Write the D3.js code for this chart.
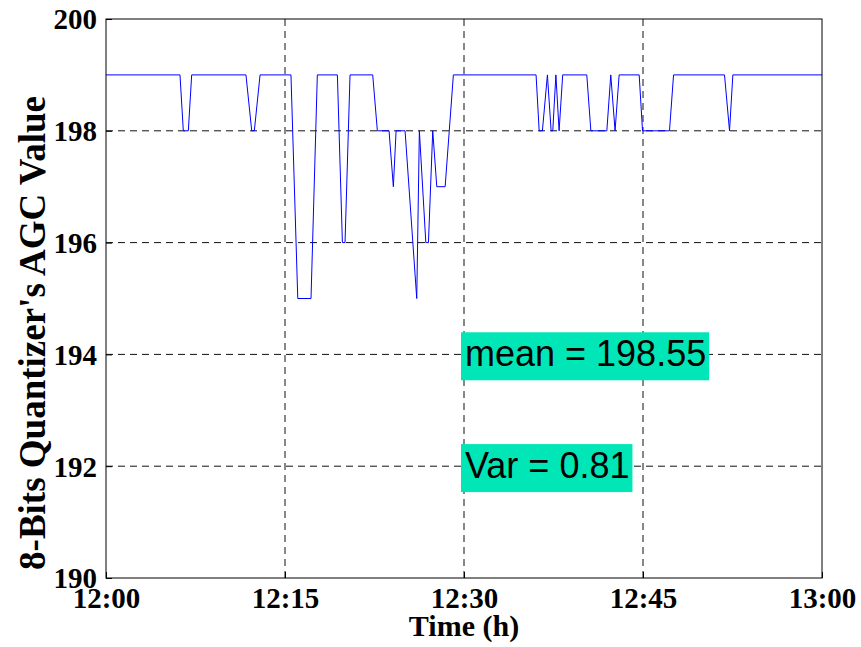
<!DOCTYPE html>
<html lang="en">
	<head>
		<meta charset="utf-8">
		<title>AGC Value</title>
		<script type="text/javascript" src="https://cdn.jsdelivr.net/npm/d3@7"></script>
		<style type="text/css">
			body{ margin: 0; background: white; }
			.tickLabel{
				font-family: "Liberation Serif", "Times New Roman", serif;
				font-weight: bold;
				font-size: 29px;
			}
			.axisTitle{
				font-family: "Liberation Serif", "Times New Roman", serif;
				font-weight: bold;
				font-size: 30px;
			}
			.note{
				font-family: "Liberation Sans", Arial, sans-serif;
				font-size: 36px;
			}
		</style>
	</head>
	<body>
		<div class="chart"></div>
		<script type="text/javascript">

			// minutes after 12:00 and the AGC value read at that moment
			var minutes = [0, 6.20, 6.48, 6.90, 7.18, 11.73, 12.21, 12.43, 12.91, 15.50,
				16.07, 17.18, 17.71, 19.39, 19.81, 20.03, 20.45, 22.35, 22.74, 23.72,
				24.08, 24.31, 25.06, 26.04, 26.26, 26.80, 27.02, 27.38, 27.72, 28.42,
				29.11, 36.04, 36.30, 36.57, 36.99, 37.30, 37.44, 37.70, 37.97, 38.27,
				40.29, 40.63, 41.97, 42.30, 42.66, 43.00, 44.68, 44.96, 47.22, 47.56,
				51.83, 52.25, 52.53, 60];
			var agc = [199, 199, 198, 198, 199, 199, 198, 198, 199, 199,
				195, 195, 199, 199, 196, 196, 199, 199, 198, 198,
				197, 198, 198, 195, 198, 196, 196, 198, 197, 197,
				199, 199, 198, 198, 199, 198, 198, 199, 198, 199,
				199, 198, 198, 199, 198, 199, 199, 198, 198, 199,
				199, 198, 199, 199];

			var xTicks = [0, 15, 30, 45, 60];
			var xTickLabels = ["12:00", "12:15", "12:30", "12:45", "13:00"];
			var yTicks = [190, 192, 194, 196, 198, 200];

			var notes = ["mean = 198.55", "Var = 0.81"];
			var noteY = [194, 192];
			var noteX = 30;

			var w = 861;
			var h = 647;
			var plotL = 106, plotR = 822, plotT = 19, plotB = 578;

			var svg = d3.select("div.chart")
						.append("svg")
						.attr("width", w)
						.attr("height", h);

			var xScale = d3.scaleLinear().domain([0, 60]).range([plotL, plotR]);
			var yScale = d3.scaleLinear().domain([190, 200]).range([plotB, plotT]);

			// grid
			svg.selectAll("line.vgrid")
				.data(xTicks.slice(1, -1))
				.enter()
				.append("line")
				.attr("x1", (d) => xScale(d))
				.attr("x2", (d) => xScale(d))
				.attr("y1", plotT)
				.attr("y2", plotB)
				.attr("stroke", "#111")
				.attr("stroke-dasharray", "7,5");

			svg.selectAll("line.hgrid")
				.data(yTicks.slice(1, -1))
				.enter()
				.append("line")
				.attr("x1", plotL)
				.attr("x2", plotR)
				.attr("y1", (d) => yScale(d))
				.attr("y2", (d) => yScale(d))
				.attr("stroke", "#111")
				.attr("stroke-dasharray", "7,5");

			// data line
			var line = d3.line()
						.x((d, i) => xScale(minutes[i]))
						.y((d) => yScale(d));

			svg.append("path")
				.datum(agc)
				.attr("d", line)
				.attr("fill", "none")
				.attr("stroke", "#0000ff")
				.attr("stroke-width", 1);

			// frame
			svg.append("rect")
				.attr("x", plotL)
				.attr("y", plotT)
				.attr("width", plotR - plotL)
				.attr("height", plotB - plotT)
				.attr("fill", "none")
				.attr("stroke", "black");

			// axes, ticks pointing inward
			var xAxis = d3.axisTop(xScale)
						.tickValues(xTicks)
						.tickSize(6)
						.tickFormat((d, i) => xTickLabels[i]);
			var yAxis = d3.axisRight(yScale)
						.tickValues(yTicks)
						.tickSize(6)
						.tickFormat(d3.format("d"));

			var gx = svg.append("g")
				.attr("transform", "translate(0," + plotB + ")")
				.call(xAxis);
			gx.select(".domain").remove();
			gx.selectAll("text")
				.attr("class", "tickLabel")
				.attr("fill", "black")
				.attr("y", 30)
				.attr("dy", 0);

			var gy = svg.append("g")
				.attr("transform", "translate(" + plotL + ",0)")
				.call(yAxis);
			gy.select(".domain").remove();
			gy.selectAll("text")
				.attr("class", "tickLabel")
				.attr("fill", "black")
				.attr("x", -9)
				.attr("dy", "0.34em")
				.attr("text-anchor", "end");
			svg.selectAll(".tick line").attr("stroke", "black");
			svg.selectAll("g").attr("font-size", null).attr("font-family", null);

			// axis titles
			svg.append("text")
				.attr("class", "axisTitle")
				.attr("x", (plotL + plotR) / 2)
				.attr("y", 636)
				.attr("text-anchor", "middle")
				.text("Time (h)");

			svg.append("text")
				.attr("class", "axisTitle")
				.style("font-size", "37px")
				.attr("transform", "translate(45,333) rotate(-90)")
				.attr("text-anchor", "middle")
				.text("8-Bits Quantizer's AGC Value");

			// annotation boxes
			notes.forEach(function(t, i){
				var g = svg.append("g");
				var rect = g.append("rect").attr("fill", "#00e6b6");
				var txt = g.append("text")
							.attr("class", "note")
							.attr("x", xScale(noteX) + 1)
							.attr("y", yScale(noteY[i]))
							.attr("dy", "0.33em")
							.text(t);
				var bb = txt.node().getBBox();
				rect.attr("x", bb.x - 4)
					.attr("y", bb.y - 1)
					.attr("width", bb.width + 7)
					.attr("height", bb.height + 7);
			});

		</script>
	</body>
</html>
